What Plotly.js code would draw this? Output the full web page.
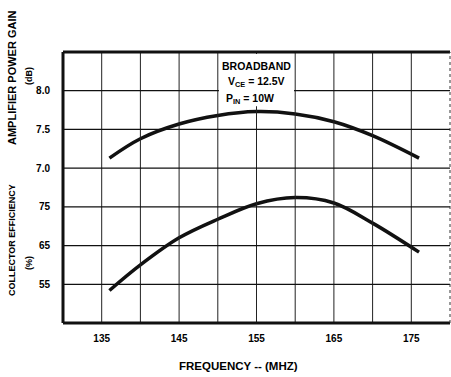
<!DOCTYPE html>
<html>
<head>
<meta charset="utf-8">
<script src="https://cdn.plot.ly/plotly-3.0.1.min.js"></script>
<style>html,body{margin:0;padding:0;background:#fff;}#chart{width:451px;height:377px;}</style>
</head>
<body>
<div id="chart"></div>
<script>
// Frequency (MHz)
const freq = [136, 140, 145, 150, 155, 160, 165, 170, 176];
// Amplifier power gain (dB)
const gain = [7.13, 7.38, 7.57, 7.68, 7.73, 7.70, 7.60, 7.42, 7.13];
// Collector efficiency (%)
const efficiency = [53.4, 60.0, 67.0, 71.8, 75.8, 77.4, 76.0, 70.8, 63.3];

const xTickVals = [135, 140, 145, 150, 155, 160, 165, 170, 175];
const xTickText = ['135', '', '145', '', '155', '', '165', '', '175'];
const gainTicks = [5.5, 6.0, 6.5, 7.0, 7.5, 8.0];
const gainTickText = ['', '', '', '7.0', '7.5', '8.0'];
const effTicks = [55, 65, 75];
const effTickText = ['55', '65', '75'];

const font = {family: 'Liberation Sans, Arial, sans-serif', color: '#000'};
const ink = '#111';
function f(size) { return Object.assign({size: size}, font); }

const traces = [
  {x: freq, y: gain, yaxis: 'y', type: 'scatter', mode: 'lines',
   line: {color: ink, width: 3.5, shape: 'spline', smoothing: 1}, hoverinfo: 'skip'},
  {x: freq, y: efficiency, yaxis: 'y2', type: 'scatter', mode: 'lines',
   line: {color: ink, width: 3.5, shape: 'spline', smoothing: 1}, hoverinfo: 'skip'}
];

// grid lines drawn as shapes on the axes' own scales
const gridShapes = [];
xTickVals.forEach(function (v) {
  gridShapes.push({type: 'line', xref: 'x', yref: 'paper', x0: v, x1: v, y0: 0, y1: 1,
    line: {color: '#222', width: 1}, layer: 'above'});
});
gainTicks.forEach(function (v) {
  gridShapes.push({type: 'line', xref: 'paper', yref: 'y', x0: 0, x1: 1, y0: v, y1: v,
    line: {color: '#111', width: 1.3}, layer: 'above'});
});

const layout = {
  width: 451, height: 377,
  margin: {l: 63, r: 1, t: 52, b: 54},
  paper_bgcolor: '#fff', plot_bgcolor: 'rgba(0,0,0,0)',
  showlegend: false,
  font: f(10),
  xaxis: {
    range: [130, 180], tickvals: xTickVals, ticktext: xTickText,
    showgrid: false, zeroline: false, showline: false, ticks: '',
    tickfont: Object.assign({weight: 'bold'}, f(10)),
    ticklabelstandoff: 8
  },
  yaxis: {
    range: [5.0, 8.5], tickvals: gainTicks, ticktext: gainTickText,
    showgrid: false, zeroline: false, showline: false, ticks: '',
    tickfont: Object.assign({weight: 'bold'}, f(10)),
    ticklabelstandoff: 12
  },
  yaxis2: {
    range: [45, 115], overlaying: 'y', side: 'left',
    tickvals: effTicks, ticktext: effTickText,
    showgrid: false, zeroline: false, showline: false, ticks: '',
    tickfont: Object.assign({weight: 'bold'}, f(10)),
    ticklabelstandoff: 12
  },
  shapes: gridShapes.concat([
    // white backing behind the condition label
    {type: 'rect', xref: 'x', yref: 'paper', x0: 150.15, x1: 159.85, y0: 0.8, y1: 0.993,
     fillcolor: '#fff', line: {width: 0}, layer: 'above'},
    // frame
    {type: 'line', xref: 'paper', yref: 'paper', x0: 0, x1: 1, y0: 1, y1: 1, line: {color: ink, width: 3}},
    {type: 'line', xref: 'paper', yref: 'paper', x0: 0, x1: 1, y0: 0, y1: 0, line: {color: ink, width: 3}},
    {type: 'line', xref: 'paper', yref: 'paper', x0: 0, x1: 0, y0: 0, y1: 1, line: {color: ink, width: 3}},
    {type: 'line', xref: 'paper', yref: 'paper', x0: 1, x1: 1, y0: 0, y1: 1, line: {color: '#333', width: 1, dash: 'dot'}}
  ]),
  annotations: [
    {text: '<b>BROADBAND</b>', xref: 'x', yref: 'paper', x: 155, y: (323-66)/271, showarrow: false,
     xanchor: 'center', yanchor: 'middle', font: f(10.5)},
    {text: '<b>V<sub>CE</sub> = 12.5V</b>', xref: 'x', yref: 'paper', x: 155, y: (323-82)/271, showarrow: false,
     xanchor: 'center', yanchor: 'middle', font: f(10.5)},
    {text: '<b>P<sub>IN</sub> = 10W</b>', xref: 'x', yref: 'paper', x: 154.2, y: (323-99)/271, showarrow: false,
     xanchor: 'center', yanchor: 'middle', font: f(10.5)},
    {text: '<b>AMPLIFIER POWER GAIN</b>', xref: 'paper', yref: 'paper', x: (12-63)/387, y: (323-77)/271,
     xanchor: 'center', yanchor: 'middle', textangle: -90, showarrow: false, font: f(11)},
    {text: '<b>(dB)</b>', xref: 'paper', yref: 'paper', x: (29-63)/387, y: (323-76)/271,
     xanchor: 'center', yanchor: 'middle', textangle: -90, showarrow: false, font: f(9)},
    {text: '<b>COLLECTOR EFFICIENCY</b>', xref: 'paper', yref: 'paper', x: (12-63)/387, y: (323-240)/271,
     xanchor: 'center', yanchor: 'middle', textangle: -90, showarrow: false, font: f(9)},
    {text: '<b>(%)</b>', xref: 'paper', yref: 'paper', x: (29-63)/387, y: (323-263)/271,
     xanchor: 'center', yanchor: 'middle', textangle: -90, showarrow: false, font: f(9)},
    {text: '<b>FREQUENCY -- (MHZ)</b>', xref: 'paper', yref: 'paper', x: (238-63)/387, y: (323-366)/271,
     xanchor: 'center', yanchor: 'middle', showarrow: false, font: f(11.5)}
  ]
};

Plotly.newPlot('chart', traces, layout, {staticPlot: true, displayModeBar: false});
</script>
</body>
</html>
